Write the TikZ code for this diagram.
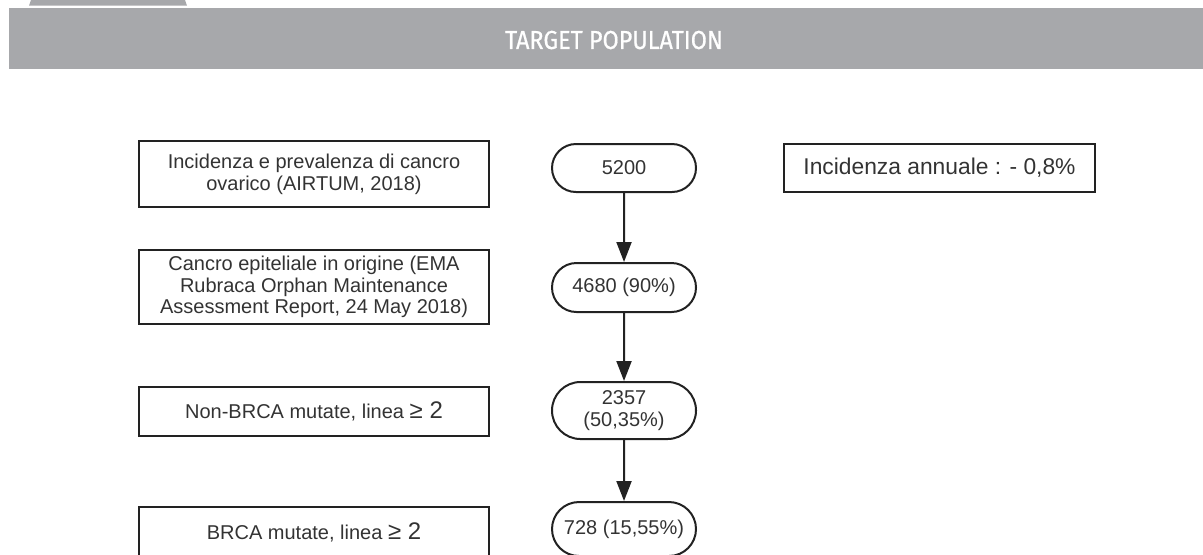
\documentclass[tikz,border=0pt]{standalone}
\usepackage{fontspec}
\usepackage{xcolor}
\usepackage{tikz}
\usetikzlibrary{shapes.misc,arrows.meta}
\setmainfont{Liberation Sans}
\newfontfamily\bannerfont[FakeStretch=0.9,FakeBold=0.6]{Fira Sans}
\definecolor{bannergray}{HTML}{A7A8AB}
\definecolor{inkgray}{HTML}{333333}
\definecolor{linegray}{HTML}{222222}
\newcommand{\geqtwo}{{\fontsize{12}{12}\selectfont ≥ 2}}

\begin{document}
\begin{tikzpicture}[x=0.5pt,y=-0.5pt,
  box/.style={draw=linegray,line width=1pt,rectangle,minimum width=175pt,
    align=center,text=inkgray,font=\fontsize{10}{10.9}\selectfont,inner sep=0pt},
  term/.style={draw=linegray,line width=1pt,rounded rectangle,minimum width=72pt,
    align=center,text=inkgray,font=\fontsize{10}{10.9}\selectfont,inner sep=0pt},
  arr/.style={draw=linegray,line width=1pt,-{Triangle[length=10pt,width=7.5pt]}}]
             \useasboundingbox (0,0) rectangle (1203,554);

             % banner
             \fill[bannergray] (31,0) -- (185,0) -- (187,5.7) -- (29,5.7) -- cycle;
             \fill[bannergray] (9,8.3) rectangle (1203,69);
             \node[draw=none,text=white,font=\bannerfont\fontsize{13}{13}\selectfont] (title) at (614,40) {TARGET POPULATION};

             % left column
             \node[box,minimum height=33pt] (src) at (314,174) {Incidenza e prevalenza di cancro\\ovarico (AIRTUM, 2018)};
             \node[box,minimum height=37pt] (epi) at (314,287) {Cancro epiteliale in origine (EMA\\Rubraca Orphan Maintenance\\Assessment Report, 24 May 2018)};
             \node[box,minimum height=24.5pt] (nonbrca) at (314,411.5) {Non-BRCA mutate, linea \geqtwo};
             \node[box,minimum height=25pt] (brca) at (314,532) {BRCA mutate, linea \geqtwo};

             % counts
             \node[term,minimum height=24pt] (n1) at (624,168) {5200};
             \node[term,minimum height=24.5pt] (n2) at (624,287.5) {4680 (90\%)};
             \node[term,minimum height=28.5pt] (n3) at (624,410.5) {2357\\(50,35\%)};
             \node[term,minimum height=27pt] (n4) at (624,529) {728 (15,55\%)};

             \draw[arr] (n1) -- (n2);
             \draw[arr] (n2) -- (n3);
             \draw[arr] (n3) -- (n4);

             % side note
             \node[box,minimum width=155.5pt,minimum height=24pt,font=\fontsize{11.4}{12}\selectfont] (rate) at (939.5,168) {Incidenza annuale : - 0,8\%};
             \end{tikzpicture}
\end{document}
